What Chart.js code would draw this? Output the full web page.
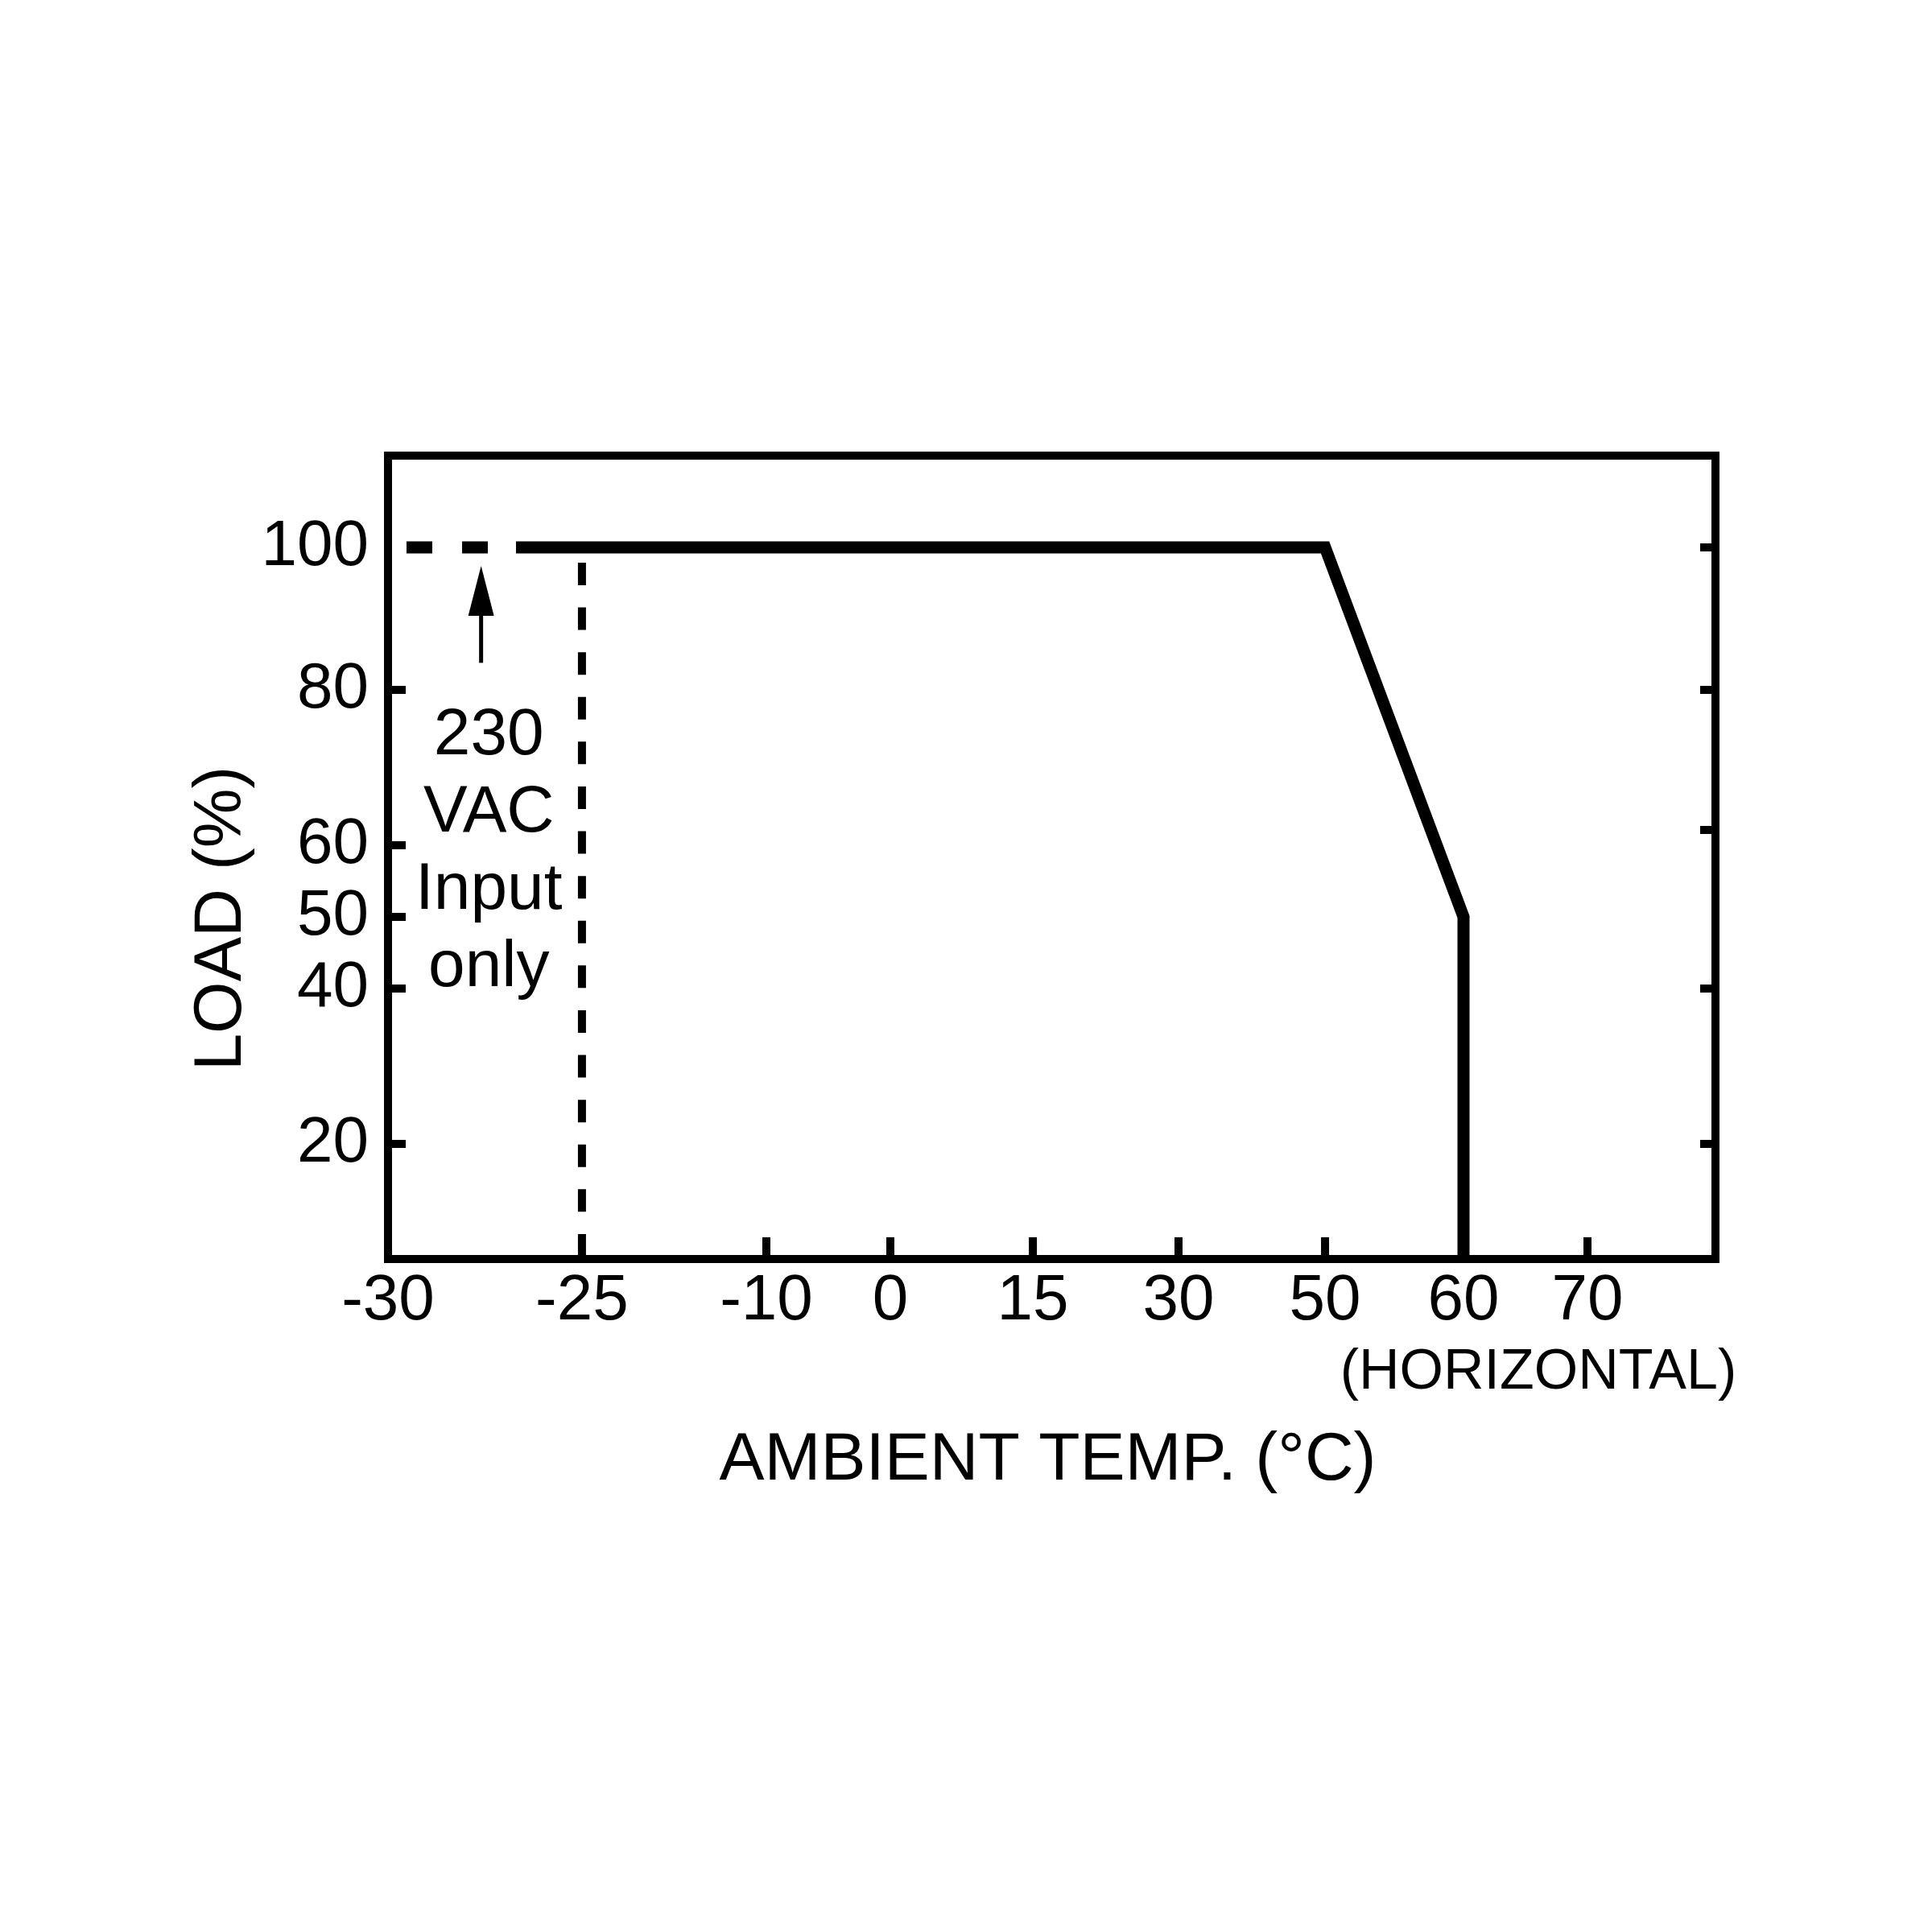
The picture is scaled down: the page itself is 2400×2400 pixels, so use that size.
<!DOCTYPE html>
<html>
<head>
<meta charset="utf-8">
<script src="https://cdn.jsdelivr.net/npm/chart.js@4.4.1/dist/chart.umd.min.js"></script>
<style>
  html, body { margin: 0; padding: 0; background: #fff; }
  canvas { display: block; }
</style>
</head>
<body>
<canvas id="chart" width="2400" height="2400"></canvas>
<script>
// tick labels
const tempTicks = [-30, -25, -10, 0, 15, 30, 50, 60, 70];
const loadTicks = [100, 80, 60, 50, 40, 20];

// derating curve (solid)
const curveTemp = [-26.7, 50, 60, 60];
const curveLoad = [100, 100, 50, 0];

// 230 VAC only part (dashed, horizontal)
const lowTemp = [-30, -26.7];
const lowLoad = [100, 100];

// -25 limit (dashed, vertical)
const limitTemp = [-25, -25];
const limitLoad = [100, 0];

// short tick marks drawn inside the frame
const bottomMarks = [-10, 0, 15, 30, 50, 70];
const leftMarks = [80, 60, 50, 40, 20];
const rightMarks = [100, 80, 60, 40, 20];

const noteLines = ['230', 'VAC', 'Input', 'only'];

const FONT = '"Liberation Sans", Arial, Helvetica, sans-serif';

// the axes of the original are not evenly spaced, so map value -> fraction piece by piece
const STOPS = {
    x: [[-30, 0], [-25, 0.1461], [-10, 0.2850], [0, 0.3784], [15, 0.4858], [30, 0.5955],
        [50, 0.7059], [60, 0.8102], [70, 0.9036], [80, 1]],
    y: [[0, 0], [20, 0.1433], [40, 0.3367], [50, 0.4259], [60, 0.5150], [80, 0.7084],
        [100, 0.8858], [113, 1]],
    yRight: [[0, 0], [20, 0.1433], [40, 0.3367], [60, 0.5340], [80, 0.7084],
        [100, 0.8858], [113, 1]]
};
const TICKS = { x: tempTicks, y: loadTicks, yRight: rightMarks };

class PiecewiseScale extends Chart.LinearScale {
    toDecimal(value) {
        const s = STOPS[this.id];
        if (value <= s[0][0]) return s[0][1];
        for (let i = 1; i < s.length; i++) {
            if (value <= s[i][0]) {
                const t = (value - s[i - 1][0]) / (s[i][0] - s[i - 1][0]);
                return s[i - 1][1] + t * (s[i][1] - s[i - 1][1]);
            }
        }
        return s[s.length - 1][1];
    }
    fromDecimal(d) {
        const s = STOPS[this.id];
        for (let i = 1; i < s.length; i++) {
            if (d <= s[i][1]) {
                const t = (d - s[i - 1][1]) / (s[i][1] - s[i - 1][1]);
                return s[i - 1][0] + t * (s[i][0] - s[i - 1][0]);
            }
        }
        return s[s.length - 1][0];
    }
    buildTicks() {
        return TICKS[this.id].map(v => ({ value: v }));
    }
    getPixelForValue(value) {
        if (value === null || value === undefined) return NaN;
        return this.getPixelForDecimal(this.toDecimal(value));
    }
    getValueForPixel(pixel) {
        return this.fromDecimal(this.getDecimalForPixel(pixel));
    }
}
PiecewiseScale.id = 'piecewise';
PiecewiseScale.defaults = {};
Chart.register(PiecewiseScale);

function pairs(xs, ys) {
    return xs.map((v, i) => ({ x: v, y: ys[i] }));
}

const framePlugin = {
    id: 'frame',
    afterDraw(chart) {
        const { ctx, chartArea: a, scales } = chart;
        const x = scales.x, y = scales.y, yr = scales.yRight;
        ctx.save();
        ctx.strokeStyle = '#000';
        ctx.fillStyle = '#000';
        ctx.lineCap = 'butt';

        // frame
        ctx.lineWidth = 10;
        ctx.strokeRect(a.left, a.top, a.right - a.left, a.bottom - a.top);

        // inward ticks
        ctx.beginPath();
        bottomMarks.forEach(v => {
            const px = x.getPixelForValue(v);
            ctx.moveTo(px, a.bottom);
            ctx.lineTo(px, a.bottom - 27);
        });
        leftMarks.forEach(v => {
            const py = y.getPixelForValue(v);
            ctx.moveTo(a.left, py);
            ctx.lineTo(a.left + 22, py);
        });
        rightMarks.forEach(v => {
            const py = yr.getPixelForValue(v);
            ctx.moveTo(a.right, py);
            ctx.lineTo(a.right - 19, py);
        });
        ctx.stroke();

        // arrow pointing at the dashed part
        const ax = x.getPixelForValue(-27.6);
        const tip = y.getPixelForValue(97.4);
        const tail = y.getPixelForValue(83.8);
        ctx.lineWidth = 5;
        ctx.beginPath();
        ctx.moveTo(ax, tail);
        ctx.lineTo(ax, tip + 55);
        ctx.stroke();
        ctx.beginPath();
        ctx.moveTo(ax, tip);
        ctx.lineTo(ax - 16, tip + 62);
        ctx.lineTo(ax + 16, tip + 62);
        ctx.closePath();
        ctx.fill();

        // note text
        ctx.font = '82px ' + FONT;
        ctx.textAlign = 'center';
        ctx.textBaseline = 'alphabetic';
        const nx = x.getPixelForValue(-27.4);
        const ny = y.getPixelForValue(71.7);
        noteLines.forEach((t, i) => ctx.fillText(t, nx, ny + i * 96));

        // axis titles
        ctx.font = '84px ' + FONT;
        ctx.fillText('AMBIENT TEMP. (\u00B0C)', (a.left + a.right) / 2 - 5, a.bottom + 274);
        ctx.font = '70px ' + FONT;
        ctx.fillText('(HORIZONTAL)', 1911, a.bottom + 161);

        ctx.font = '83px ' + FONT;
        ctx.translate(a.left - 183, 1141);
        ctx.rotate(-Math.PI / 2);
        ctx.fillText('LOAD (%)', 0, 0);
        ctx.restore();
    }
};

new Chart(document.getElementById('chart'), {
    type: 'line',
    data: {
        datasets: [
            {
                data: pairs(curveTemp, curveLoad),
                borderColor: '#000',
                borderWidth: 15,
                pointRadius: 0,
                borderJoinStyle: 'miter'
            },
            {
                data: pairs(lowTemp, lowLoad),
                borderColor: '#000',
                borderWidth: 15,
                pointRadius: 0,
                borderDash: [32, 37],
                borderDashOffset: 46
            },
            {
                data: pairs(limitTemp, limitLoad),
                borderColor: '#000',
                borderWidth: 10,
                pointRadius: 0,
                borderDash: [28, 27.6],
                borderDashOffset: 36.6
            }
        ]
    },
    options: {
        responsive: false,
        animation: false,
        events: [],
        layout: { padding: { left: 0, top: 566, right: 269, bottom: 0 } },
        plugins: {
            legend: { display: false },
            tooltip: { enabled: false }
        },
        scales: {
            x: {
                type: 'piecewise',
                position: 'bottom',
                min: -30,
                max: 80,
                grid: { display: false, drawTicks: false },
                border: { display: false },
                ticks: {
                    autoSkip: false,
                    maxRotation: 0,
                    padding: 5,
                    color: '#000',
                    font: { family: FONT, size: 80 },
                    callback: v => String(v)
                },
                afterFit: s => { s.height = 836; }
            },
            y: {
                type: 'piecewise',
                position: 'left',
                min: 0,
                max: 113,
                grid: { display: false, drawTicks: false },
                border: { display: false },
                ticks: {
                    autoSkip: false,
                    padding: 24,
                    color: '#000',
                    font: { family: FONT, size: 80 },
                    callback: v => String(v)
                },
                afterFit: s => { s.width = 482; }
            },
            yRight: {
                type: 'piecewise',
                position: 'right',
                display: false,
                min: 0,
                max: 113
            }
        }
    },
    plugins: [framePlugin]
});
</script>
</body>
</html>
